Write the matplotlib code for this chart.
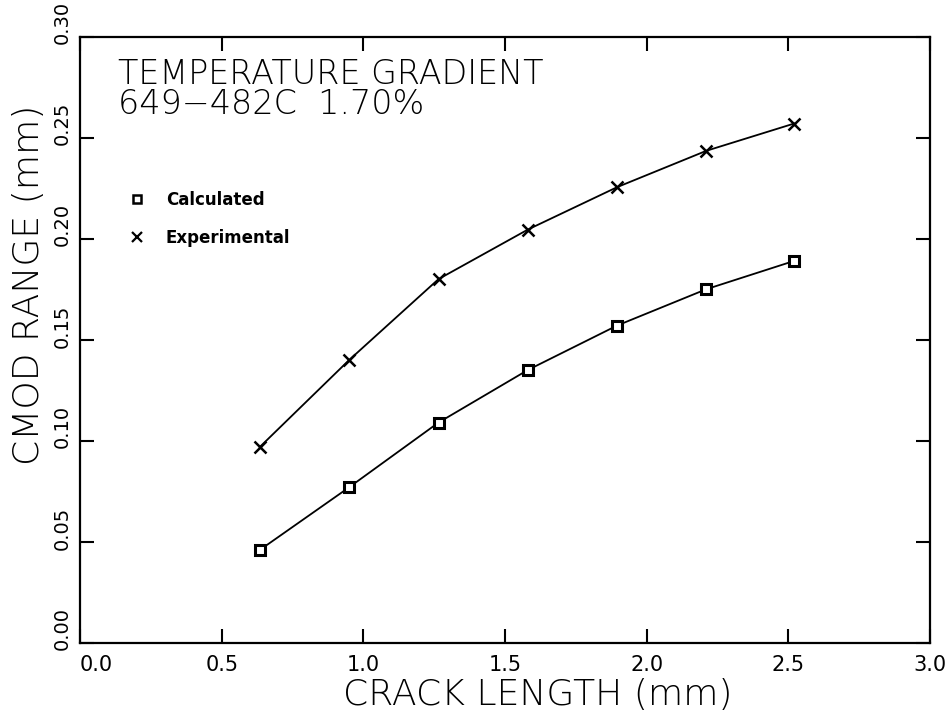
import matplotlib
matplotlib.use("Agg")
from matplotlib import pyplot as plt
from matplotlib.lines import Line2D

# データ
crack_length = [0.635, 0.95, 1.265, 1.58, 1.895, 2.21, 2.52]
calculated = [0.046, 0.077, 0.109, 0.135, 0.157, 0.175, 0.189]
experimental = [0.097, 0.140, 0.180, 0.2045, 0.2255, 0.2435, 0.257]

x_ticks = [0.0, 0.5, 1.0, 1.5, 2.0, 2.5, 3.0]
y_ticks = [0.00, 0.05, 0.10, 0.15, 0.20, 0.25, 0.30]

plt.rcParams['font.family'] = ['DejaVu Sans']

fig = plt.figure(figsize=(9.53, 7.19), dpi=100)
ax = fig.add_axes([0.084, 0.106, 0.892, 0.843])

# 計算値と実験値
ax.plot(crack_length, calculated, color='black', linewidth=1.3,
        marker='s', markersize=7, markerfacecolor='white',
        markeredgecolor='black', markeredgewidth=2.2)
ax.plot(crack_length, experimental, color='black', linewidth=1.3,
        marker='x', markersize=9, markeredgewidth=1.8)

ax.set_xlim(0, 3.0)
ax.set_ylim(0, 0.30)
ax.set_xticks(x_ticks)
ax.set_yticks(y_ticks)
ax.set_xticklabels([f'{v:.1f}' for v in x_ticks], fontsize=15)
ax.set_yticklabels([])
# 原点の横軸ラベルは右に寄せる（元図と同じ）
ax.get_xticklabels()[0].set_ha('left')

# 縦軸の目盛ラベル：90度回転し、目盛より少し上に置く
for v in y_ticks:
    ax.annotate(f'{v:.2f}', xy=(0, v), xycoords=('axes fraction', 'data'),
                xytext=(-6, 10), textcoords='offset points',
                rotation=90, ha='right', va='center', fontsize=14)

ax.tick_params(direction='in', length=10, width=1.5, top=True, right=True)
ax.tick_params(axis='x', pad=9)
for s in ax.spines.values():
    s.set_linewidth(1.6)

ax.set_xlabel('CRACK LENGTH (mm)', fontsize=26, fontweight='light')
ax.set_ylabel('CMOD RANGE (mm)', fontsize=26, fontweight='light')
ax.xaxis.set_label_coords(0.539, -0.058)
ax.yaxis.set_label_coords(-0.04, 0.59)

# 注記
ax.text(0.045, 0.965, 'TEMPERATURE GRADIENT\n649\u2212482C  1.70%',
        transform=ax.transAxes, fontsize=24, fontweight='light',
        va='top', ha='left', linespacing=0.9)

# 凡例
handles = [
    Line2D([], [], linestyle='none', marker='s', markersize=6,
           markerfacecolor='white', markeredgecolor='black',
           markeredgewidth=1.8),
    Line2D([], [], linestyle='none', marker='x', markersize=7,
           color='black', markeredgewidth=1.6),
]
ax.legend(handles, ['Calculated', 'Experimental'], loc='upper left',
          bbox_to_anchor=(0.04, 0.77), frameon=False, handlelength=1.0,
          handletextpad=1.2, labelspacing=1.2,
          prop={'size': 12, 'weight': 'bold'})

fig.savefig('out.png', dpi=100)
